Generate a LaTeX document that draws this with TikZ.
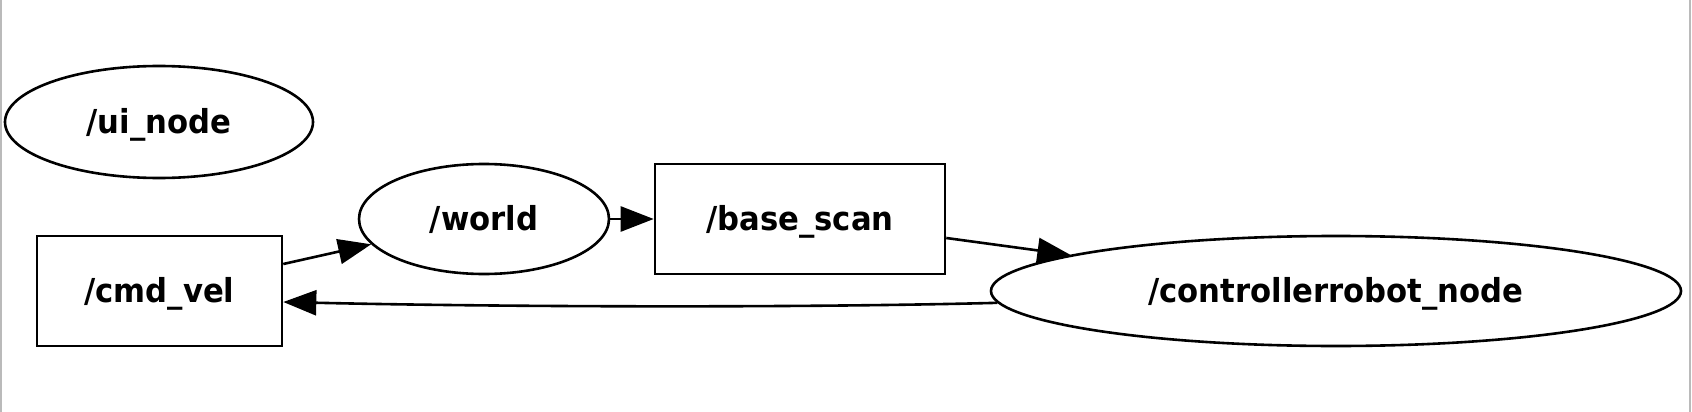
\documentclass[tikz,border=0pt]{standalone}
\usepackage{fontspec}
\setmainfont{DejaVu Sans}[FakeStretch=0.93]
\usetikzlibrary{shapes.geometric,arrows.meta}
\begin{document}
\begin{tikzpicture}[x=1pt,y=-1pt,
  lbl/.style={font=\fontsize{33}{38}\selectfont\bfseries, inner sep=0pt, text height=30pt, text depth=8pt, line width=2.6pt, draw=black},
  topic/.style={lbl, rectangle},
  rosnode/.style={lbl, ellipse},
  edge/.style={line width=2.6pt, -{Triangle[length=33pt,width=25pt]}},
  frame/.style={draw=black!27, line width=2pt}
]
\useasboundingbox (0,0) rectangle (1692,412);
\draw[frame] (1,0) -- (1,412);
\draw[frame] (1690,0) -- (1690,412);
\node[rosnode, minimum width=308pt, minimum height=112pt] (ui) at (159,122) {/ui\_node};
\node[topic, minimum width=245pt, minimum height=110pt] (cmd) at (159.5,291) {/cmd\_vel};
\node[rosnode, minimum width=250pt, minimum height=110pt] (world) at (484,219) {/world};
\node[topic, minimum width=290pt, minimum height=110pt] (base) at (800,219) {/base\_scan};
\node[rosnode, minimum width=690pt, minimum height=110pt] (ctrl) at (1336,291) {/controllerrobot\_node};
\draw[edge] ([yshift=27pt]cmd.east) -- (world);
\draw[edge] (world) -- (base);
\draw[edge] ([yshift=-19pt]base.east) -- (ctrl);
\draw[edge] (ctrl.182) .. controls (800,308) and (500,307) .. ([yshift=-11pt]cmd.east);
\end{tikzpicture}
\end{document}
